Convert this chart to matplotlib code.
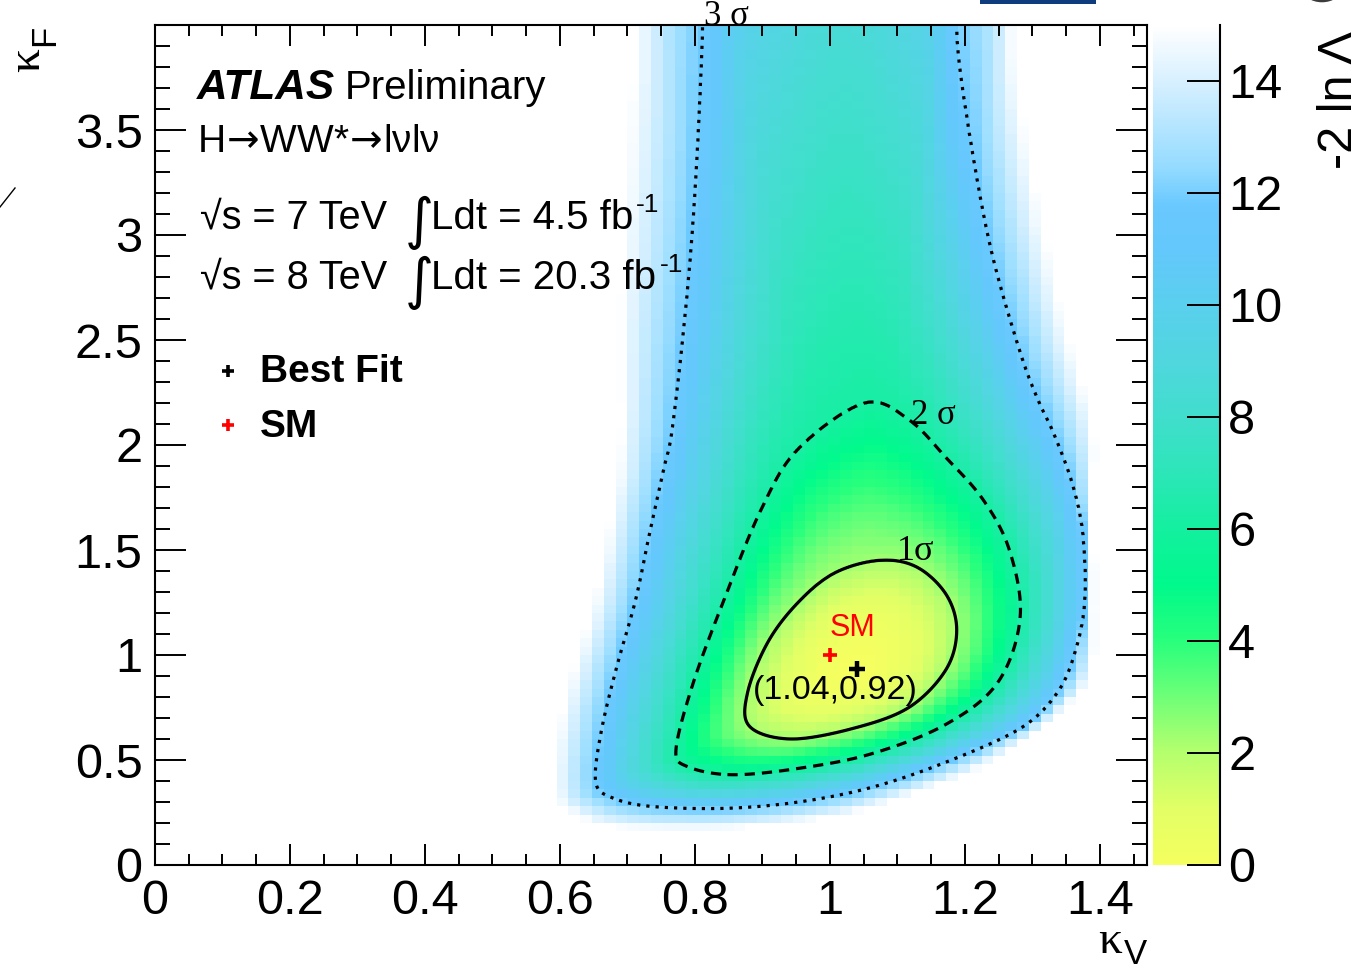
import numpy as np
import matplotlib
matplotlib.use("Agg")
import matplotlib.pyplot as plt
from matplotlib.colors import LinearSegmentedColormap
from matplotlib.patches import Circle, Rectangle
from matplotlib.lines import Line2D

plt.rcParams['font.family'] = ['Liberation Sans', 'DejaVu Sans']
plt.rcParams['mathtext.fontset'] = 'custom'
plt.rcParams['mathtext.rm'] = 'Liberation Sans'
plt.rcParams['mathtext.it'] = 'Liberation Sans:italic'
plt.rcParams['mathtext.bf'] = 'Liberation Sans:bold'
plt.rcParams['mathtext.sf'] = 'DejaVu Sans'

# ---------------- data ----------------
best_fit = [1.04, 0.935]
sm_point = [1.0, 1.0]
best_fit_label = "(1.04,0.92)"
sigma_levels = [2.30, 6.18, 11.83]
z_max = 15.0

# 1 sigma contour (kappa_V, kappa_F)
c1_kv = [1.073, 1.007, 0.953, 0.908, 0.878, 0.881, 0.942, 1.034, 1.117, 1.172, 1.188, 1.172, 1.128]
c1_kf = [1.45, 1.39, 1.25, 1.06, 0.82, 0.66, 0.60, 0.65, 0.75, 0.93, 1.12, 1.29, 1.42]

# 2 sigma contour
c2_kv = [1.052, 0.953, 0.898, 0.843, 0.798, 0.772, 0.788, 0.853, 0.953, 1.062, 1.172, 1.249,
         1.282, 1.266, 1.227, 1.172, 1.117]
c2_kf = [2.20, 1.98, 1.69, 1.26, 0.87, 0.55, 0.47, 0.43, 0.46, 0.53, 0.67, 0.87,
         1.18, 1.50, 1.74, 1.94, 2.12]

# 3 sigma contour (open at the top of the frame)
c3_kv = [0.813, 0.804, 0.794, 0.780, 0.765, 0.755, 0.733, 0.712, 0.684, 0.661, 0.653,
         0.678, 0.733, 0.843, 0.953, 1.062, 1.172, 1.282, 1.337, 1.364, 1.378, 1.375,
         1.359, 1.331, 1.309, 1.282, 1.240, 1.211, 1.188, 1.183, 1.17, 1.0, 0.83]
c3_kf = [3.99, 3.39, 2.91, 2.44, 2.04, 1.90, 1.58, 1.26, 0.94, 0.63, 0.39,
         0.32, 0.28, 0.27, 0.30, 0.37, 0.49, 0.65, 0.82, 1.02, 1.26, 1.58,
         1.82, 2.06, 2.21, 2.44, 2.91, 3.39, 3.87, 3.97, 5.0, 6.2, 5.0]

# outer edge of the coloured region (-2 ln Lambda = 15)
c15_kv = [0.711, 0.690, 0.690, 0.678, 0.650, 0.613, 0.593, 0.593, 0.613, 0.678, 0.843,
          1.007, 1.117, 1.227, 1.326, 1.386, 1.392, 1.390, 1.390, 1.347, 1.304, 1.276,
          1.270, 1.26, 1.0, 0.72]
c15_kf = [4.0, 2.75, 2.04, 1.74, 1.26, 0.86, 0.55, 0.32, 0.25, 0.18, 0.17,
          0.23, 0.33, 0.47, 0.69, 0.90, 1.26, 1.74, 2.10, 2.60, 3.23, 3.79,
          4.0, 5.5, 8.0, 5.5]

x_ticks = [0, 0.2, 0.4, 0.6, 0.8, 1.0, 1.2, 1.4]
x_tick_labels = ["0", "0.2", "0.4", "0.6", "0.8", "1", "1.2", "1.4"]
y_ticks = [0, 0.5, 1.0, 1.5, 2.0, 2.5, 3.0, 3.5]
y_tick_labels = ["0", "0.5", "1", "1.5", "2", "2.5", "3", "3.5"]
cbar_ticks = [0, 2, 4, 6, 8, 10, 12, 14]
cbar_tick_labels = ["0", "2", "4", "6", "8", "10", "12", "14"]

cmap_values = [0, 1, 2, 3, 4, 5, 6, 7, 8, 9, 10, 11, 11.8, 12.5, 14, 15]
cmap_colors = ["#F5FF5F", "#E2FF66", "#B4FF6E", "#6EFF78", "#28FF7D", "#00FA8C",
               "#14F0A0", "#2DE6B9", "#41DECD", "#50D7DE", "#5AD0EE", "#64C8FC",
               "#6AC9FF", "#96DCFF", "#D7F0FF", "#FFFFFF"]

# binning of the scan
kv_bin, kf_bin = 0.0175, 0.04
kv_range, kf_range = (0.0, 1.4875), (0.0, 4.0)

# ---------------- build surface from the contours ----------------
PX, PY = 674.0, 210.0
NG = 2880
theta_grid = np.linspace(-np.pi, np.pi, NG, endpoint=False)


def catmull_closed(kv, kf, n=60):
    P = np.column_stack([(np.asarray(kv) - best_fit[0]) * PX,
                         (np.asarray(kf) - best_fit[1]) * PY])
    N = len(P)
    t = np.linspace(0, 1, n, endpoint=False)[:, None]
    out = []
    for i in range(N):
        p0, p1, p2, p3 = P[i - 1], P[i], P[(i + 1) % N], P[(i + 2) % N]
        out.append(0.5 * (2 * p1 + (-p0 + p2) * t + (2 * p0 - 5 * p1 + 4 * p2 - p3) * t ** 2
                          + (-p0 + 3 * p1 - 3 * p2 + p3) * t ** 3))
    return np.vstack(out)


def ray_profile(kv, kf):
    D = catmull_closed(kv, kf)
    th = np.arctan2(D[:, 1], D[:, 0])
    r = np.hypot(D[:, 0], D[:, 1])
    o = np.argsort(th)
    rg = np.interp(theta_grid, th[o], r[o], period=2 * np.pi)
    k = np.arange(-24, 25)
    w = np.exp(-0.5 * (k / 6.0) ** 2)
    w /= w.sum()
    rs = np.zeros_like(rg)
    for kk, ww in zip(k, w):
        rs += ww * np.roll(rg, kk)
    return rs


profiles = [ray_profile(c1_kv, c1_kf), ray_profile(c2_kv, c2_kf),
            ray_profile(c3_kv, c3_kf), ray_profile(c15_kv, c15_kf)]
for i in range(1, 4):
    profiles[i] = np.maximum(profiles[i], profiles[i - 1] + 2.0)
knot_s = np.sqrt([0.0] + sigma_levels + [z_max])


def field(KV, KF):
    dx = (KV - best_fit[0]) * PX
    dy = (KF - best_fit[1]) * PY
    th = np.arctan2(dy, dx)
    r = np.hypot(dx, dy)
    R = [np.interp(th, theta_grid, p, period=2 * np.pi) for p in profiles]
    s = r / R[0] * knot_s[1]
    for i in range(1, 4):
        m = r > R[i - 1]
        s = np.where(m, knot_s[i] + (r - R[i - 1]) / (R[i] - R[i - 1]) * (knot_s[i + 1] - knot_s[i]), s)
    return s ** 2


cmap = LinearSegmentedColormap.from_list(
    "atlas", [(v / z_max, c) for v, c in zip(cmap_values, cmap_colors)])

# ---------------- figure ----------------
W, H = 1362, 973
fig = plt.figure(figsize=(W / 100, H / 100), dpi=100)


def fx(px):
    return px / W


def fy(py):
    return 1 - py / H


ax = fig.add_axes([fx(155), fy(865), fx(1147) - fx(155), fy(25) - fy(865)])
ax.set_xlim(0, 1.47)
ax.set_ylim(0, 4.0)

kv_edges = np.arange(kv_range[0], kv_range[1] + 1e-9, kv_bin)
kf_edges = np.arange(kf_range[0], kf_range[1] + 1e-9, kf_bin)
KVc, KFc = np.meshgrid(0.5 * (kv_edges[1:] + kv_edges[:-1]), 0.5 * (kf_edges[1:] + kf_edges[:-1]))
Z = field(KVc, KFc)
Zm = np.ma.masked_where(Z > z_max, Z)
ax.pcolormesh(kv_edges, kf_edges, Zm, cmap=cmap, vmin=0, vmax=z_max,
              shading='flat', edgecolors='none', antialiased=False)

kvf = np.linspace(0, 1.47, 900)
kff = np.linspace(0, 4.1, 1100)
KVf, KFf = np.meshgrid(kvf, kff)
Zf = field(KVf, KFf)
ax.contour(KVf, KFf, Zf, levels=[sigma_levels[0]], colors='black', linewidths=2.3,
           linestyles='solid')
ax.contour(KVf, KFf, Zf, levels=[sigma_levels[1]], colors='black', linewidths=2.3,
           linestyles=[(0, (3.2, 2.2))])
ax.contour(KVf, KFf, Zf, levels=[sigma_levels[2]], colors='black', linewidths=2.3,
           linestyles=[(0, (1.0, 1.9))])

# points
ax.plot([best_fit[0]], [best_fit[1]], marker='+', color='black', markersize=12, mew=3.2, ls='none')
ax.plot([sm_point[0]], [sm_point[1]], marker='+', color='#FF0000', markersize=10, mew=2.6, ls='none')
ax.text(0.999, 1.09, "SM", color='#FF0000', fontsize=22, ha='left', va='baseline')
ax.text(0.886, 0.79, best_fit_label, color='black', fontsize=24.5, ha='left', va='baseline')

# contour labels
serif = ['Liberation Serif', 'DejaVu Serif']
ax.text(1.099, 1.45, "1σ", family=serif, fontsize=26, ha='left', va='baseline')
ax.text(1.120, 2.10, "2 σ", family=serif, fontsize=25, ha='left', va='baseline')
ax.text(0.813, 4.0, "3 σ", family=serif, fontsize=25, ha='left', va='baseline', clip_on=False)

# axes styling
for sp in ax.spines.values():
    sp.set_linewidth(1.5)
ax.set_xticks(x_ticks)
ax.set_xticklabels(x_tick_labels)
ax.set_yticks(y_ticks)
ax.set_yticklabels(y_tick_labels)
ax.set_xticks(np.arange(0, 1.4701, 0.05), minor=True)
ax.set_yticks(np.arange(0, 4.0001, 0.1), minor=True)
ax.tick_params(axis='both', which='both', direction='in', top=True, right=True, width=1.4,
               labelsize=35)
ax.tick_params(axis='x', which='major', length=15, pad=10)
ax.tick_params(axis='x', which='minor', length=8)
ax.tick_params(axis='y', which='major', length=22, pad=9)
ax.tick_params(axis='y', which='minor', length=11)

# colorbar
cax = fig.add_axes([fx(1153), fy(865), fx(1220) - fx(1153), fy(25) - fy(865)])
grad = np.linspace(0, z_max, 512).reshape(-1, 1)
cax.imshow(grad, aspect='auto', origin='lower', extent=[0, 1, 0, z_max], cmap=cmap,
           vmin=0, vmax=z_max, interpolation='bilinear')
cax.set_xlim(0, 1)
cax.set_ylim(0, z_max)
cax.set_xticks([])
for name, sp in cax.spines.items():
    sp.set_visible(name == 'right')
cax.spines['right'].set_linewidth(1.5)
cax.yaxis.tick_right()
cax.set_yticks(cbar_ticks)
cax.set_yticklabels(cbar_tick_labels)
cax.tick_params(axis='y', direction='in', length=24, width=1.4, labelsize=35, pad=6,
                left=False, right=True)

# axis titles
fig.text(fx(28), fy(60), "κ", family=serif, fontsize=34, rotation=90, ha='center', va='center')
fig.text(fx(45), fy(35), "F", fontsize=25, rotation=90, ha='center', va='center')
fig.text(fx(1110), fy(942), "κ", family=serif, fontsize=34, ha='center', va='center')
fig.text(fx(1135), fy(955), "V", fontsize=25, ha='center', va='center')
fig.text(fx(1340), fy(100), "-2 ln Λ", fontsize=35, rotation=90, ha='center', va='center')

# header texts
fig.text(fx(197), fy(99), "ATLAS", fontsize=30.5, fontweight='bold', fontstyle='italic',
         ha='left', va='baseline')
fig.text(fx(345), fy(99), "Preliminary", fontsize=29, ha='left', va='baseline')
fig.text(fx(197), fy(152), r"H$\!\mathsf{\rightarrow}\!$WW*$\!\mathsf{\rightarrow}\!$lνlν",
         fontsize=28, ha='left', va='baseline')
for base, energy, lumi, x_end in [(229, "7", "4.5", 636), (289, "8", "20.3", 660)]:
    fig.text(fx(200), fy(base), "√s = %s TeV" % energy, fontsize=28.5, ha='left', va='baseline')
    fig.text(fx(405), fy(base + 9), "∫", family=['DejaVu Sans'], fontsize=40,
             ha='left', va='baseline')
    fig.text(fx(431), fy(base), "Ldt = %s fb" % lumi, fontsize=29, ha='right' if False else 'left',
             va='baseline')
    fig.text(fx(x_end), fy(base - 17), "-1", fontsize=19, ha='left', va='baseline')

# legend
fig.add_artist(Line2D([fx(228)], [fy(371)], marker='+', color='black', markersize=9, mew=2.6,
                      ls='none', transform=fig.transFigure))
fig.add_artist(Line2D([fx(228)], [fy(425)], marker='+', color='#FF0000', markersize=9, mew=2.6,
                      ls='none', transform=fig.transFigure))
fig.text(fx(260), fy(382), "Best Fit", fontsize=28, fontweight='bold', ha='left', va='baseline')
fig.text(fx(260), fy(437), "SM", fontsize=28, fontweight='bold', ha='left', va='baseline')

# screenshot edge artefacts
fig.add_artist(Rectangle((fx(980), fy(4)), fx(1096) - fx(980), fy(0) - fy(4),
                         transform=fig.transFigure, color='#0F3C7D', lw=0))
fig.add_artist(Circle((fx(1322), fy(-12)), 20 / W, transform=fig.transFigure, color='#3C3C3C', lw=0))
fig.add_artist(Line2D([fx(0), fx(15)], [fy(207), fy(188)], color='black', lw=1.0,
                      transform=fig.transFigure))

fig.savefig("out.png", dpi=100)
